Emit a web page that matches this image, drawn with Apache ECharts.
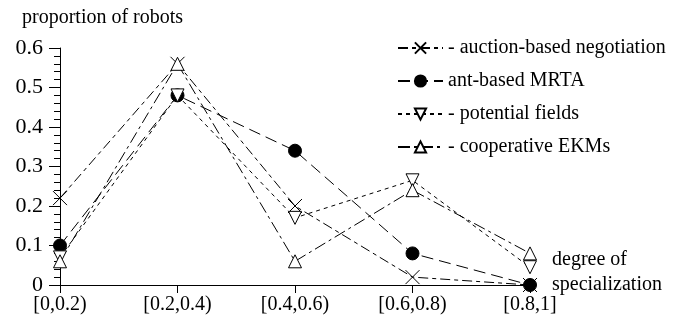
<!DOCTYPE html>
<html>
<head>
<meta charset="utf-8">
<script src="https://cdn.jsdelivr.net/npm/echarts@6/dist/echarts.min.js"></script>
<style>html,body{margin:0;padding:0;background:#fff;}#c{width:680px;height:327px;}</style>
</head>
<body>
<div id="c"></div>
<script>
var categories = ['[0,0.2)', '[0.2,0.4)', '[0.4,0.6)', '[0.6,0.8)', '[0.8,1]'];
var auction = [0.22, 0.56, 0.20, 0.02, 0.00];
var antBased = [0.10, 0.48, 0.34, 0.08, 0.00];
var potential = [0.07, 0.48, 0.17, 0.265, 0.045];
var cooperative = [0.06, 0.56, 0.06, 0.24, 0.08];
var seriesNames = ['- auction-based negotiation', 'ant-based MRTA', '- potential fields', '- cooperative EKMs'];
var yTicks = [0, 0.1, 0.2, 0.3, 0.4, 0.5, 0.6];

var FONT = 'Liberation Serif';
var chart = echarts.init(document.getElementById('c'), null, {renderer: 'canvas'});

function mk(name, data, symbol, size, rotate, fill, dash) {
  return {
    name: name, type: 'line', data: data,
    symbol: symbol, symbolSize: size, symbolRotate: rotate,
    showAllSymbol: true,
    lineStyle: {color: '#000', width: 1, type: dash},
    itemStyle: {color: fill, borderColor: '#000', borderWidth: 1},
    emphasis: {disabled: true},
    animation: false
  };
}

var option = {
  backgroundColor: '#fff',
  animation: false,
  title: {
    text: 'proportion of robots', left: 22, top: 8, padding: 0,
    textStyle: {fontFamily: FONT, fontSize: 20, fontWeight: 'normal', color: '#000'}
  },
  grid: {left: 60, right: 150, top: 48, bottom: 42, containLabel: false},
  legend: {
    orient: 'vertical', left: 392, top: 33,
    itemWidth: 45, itemHeight: 14, itemGap: 13,
    textStyle: {fontFamily: FONT, fontSize: 20, color: '#000', lineHeight: 20},
    data: seriesNames.map(function (n) { return {name: n}; }),
    selectedMode: false
  },
  xAxis: {
    type: 'category', data: categories, boundaryGap: false,
    axisLine: {lineStyle: {color: '#000', width: 1}},
    axisTick: {show: true, length: 8, alignWithLabel: true, lineStyle: {color: '#000'}},
    axisLabel: {fontFamily: FONT, fontSize: 20, color: '#000', margin: 10, interval: 0},
    splitLine: {show: false},
    name: 'degree of\nspecialization\n ', nameLocation: 'end', nameGap: 22,
    nameMoveOverlap: false,
    nameTextStyle: {fontFamily: FONT, fontSize: 20, color: '#000', align: 'left', verticalAlign: 'middle', lineHeight: 25}
  },
  yAxis: {
    type: 'value', min: 0, max: 0.6, interval: 0.1,
    axisLine: {show: true, lineStyle: {color: '#000', width: 1}},
    axisTick: {show: true, length: 11, lineStyle: {color: '#000'}},
    minorTick: {show: true, splitNumber: 5, length: 6, lineStyle: {color: '#000'}},
    axisLabel: {fontFamily: FONT, fontSize: 22, color: '#000', margin: 17,
      formatter: function (v) { var i = yTicks.indexOf(Math.round(v * 10) / 10); return i >= 0 ? String(yTicks[i]) : ''; }},
    splitLine: {show: false}
  },
  series: [
    mk(seriesNames[0], auction, 'path://M0,0L10,10M10,0L0,10', 14, 0, 'none', [10, 4, 4, 4]),
    mk(seriesNames[1], antBased, 'circle', 13, 0, '#000', [12, 6]),
    mk(seriesNames[2], potential, 'triangle', 13, 180, '#fff', [4, 4]),
    mk(seriesNames[3], cooperative, 'triangle', 13, 0, '#fff', [12, 4, 3, 4])
  ]
};
chart.setOption(option);
</script>
</body>
</html>
